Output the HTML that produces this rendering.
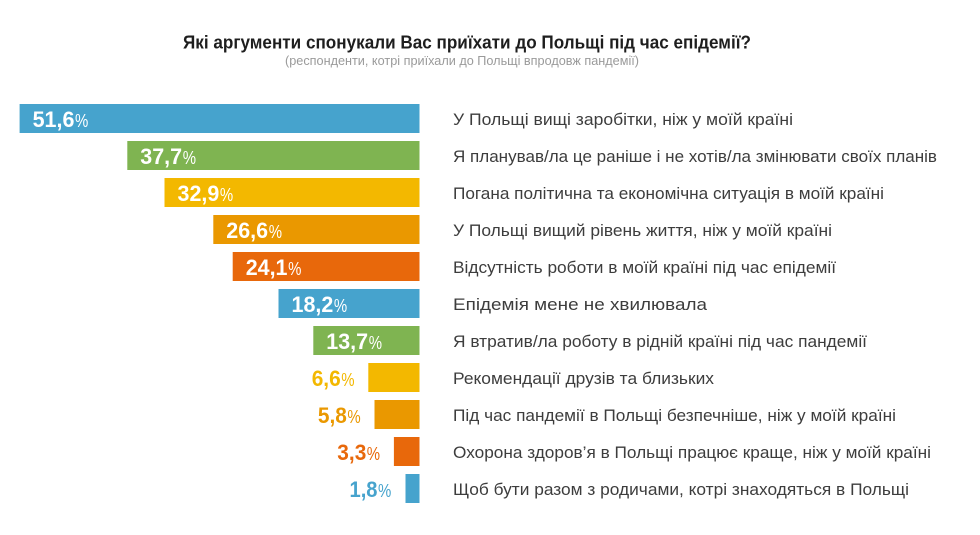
<!DOCTYPE html>
<html>
<head>
<meta charset="utf-8">
<style>
  html, body { margin:0; padding:0; background:#ffffff; }
  svg { display:block; }
  .t { font-family:"Liberation Sans","Noto Sans CJK SC",sans-serif; }
</style>
</head>
<body>
<svg width="980" height="535" viewBox="0 0 980 535" xmlns="http://www.w3.org/2000/svg" class="t">
  <!-- Title -->
  <text x="183" y="48.7" font-size="18" font-weight="bold" fill="#1e1e1e" textLength="568" lengthAdjust="spacingAndGlyphs">Які аргументи спонукали Вас приїхати до Польщі під час епідемії?</text>
  <text x="285" y="65" font-size="13" fill="#9a9a9a" textLength="354" lengthAdjust="spacingAndGlyphs">(респонденти, котрі приїхали до Польщі впродовж пандемії)</text>

  <!-- Bars -->
  <rect x="19.6" y="104" width="399.9" height="29" fill="#46a3cd"/>
  <rect x="127.3" y="141" width="292.2" height="29" fill="#7fb451"/>
  <rect x="164.5" y="178" width="255" height="29" fill="#f3b800"/>
  <rect x="213.3" y="215" width="206.2" height="29" fill="#ea9800"/>
  <rect x="232.7" y="252" width="186.8" height="29" fill="#e8680b"/>
  <rect x="278.5" y="289" width="141" height="29" fill="#46a3cd"/>
  <rect x="313.3" y="326" width="106.2" height="29" fill="#7fb451"/>
  <rect x="368.3" y="363" width="51.2" height="29" fill="#f3b800"/>
  <rect x="374.5" y="400" width="45" height="29" fill="#ea9800"/>
  <rect x="393.9" y="437" width="25.6" height="29" fill="#e8680b"/>
  <rect x="405.5" y="474" width="14" height="29" fill="#46a3cd"/>

  <!-- Inside value labels -->
  <g fill="#ffffff">
    <text x="32.6" y="127" font-size="22" font-weight="bold" textLength="41.8" lengthAdjust="spacingAndGlyphs">51,6</text>
    <text x="75" y="127" font-size="18" textLength="13.3" lengthAdjust="spacingAndGlyphs">%</text>

    <text x="140.3" y="164" font-size="22" font-weight="bold" textLength="41.8" lengthAdjust="spacingAndGlyphs">37,7</text>
    <text x="182.7" y="164" font-size="18" textLength="13.3" lengthAdjust="spacingAndGlyphs">%</text>

    <text x="177.5" y="201" font-size="22" font-weight="bold" textLength="41.8" lengthAdjust="spacingAndGlyphs">32,9</text>
    <text x="219.9" y="201" font-size="18" textLength="13.3" lengthAdjust="spacingAndGlyphs">%</text>

    <text x="226.3" y="238" font-size="22" font-weight="bold" textLength="41.8" lengthAdjust="spacingAndGlyphs">26,6</text>
    <text x="268.7" y="238" font-size="18" textLength="13.3" lengthAdjust="spacingAndGlyphs">%</text>

    <text x="245.7" y="275" font-size="22" font-weight="bold" textLength="41.8" lengthAdjust="spacingAndGlyphs">24,1</text>
    <text x="288.1" y="275" font-size="18" textLength="13.3" lengthAdjust="spacingAndGlyphs">%</text>

    <text x="291.5" y="312" font-size="22" font-weight="bold" textLength="41.8" lengthAdjust="spacingAndGlyphs">18,2</text>
    <text x="333.9" y="312" font-size="18" textLength="13.3" lengthAdjust="spacingAndGlyphs">%</text>

    <text x="326.3" y="349" font-size="22" font-weight="bold" textLength="41.8" lengthAdjust="spacingAndGlyphs">13,7</text>
    <text x="368.7" y="349" font-size="18" textLength="13.3" lengthAdjust="spacingAndGlyphs">%</text>
  </g>

  <!-- Outside value labels -->
  <text x="311.7" y="386" font-size="22" font-weight="bold" fill="#f3b800" textLength="29" lengthAdjust="spacingAndGlyphs">6,6</text>
  <text x="341.2" y="386" font-size="18" fill="#f3b800" textLength="13.3" lengthAdjust="spacingAndGlyphs">%</text>

  <text x="317.9" y="423" font-size="22" font-weight="bold" fill="#ea9800" textLength="29" lengthAdjust="spacingAndGlyphs">5,8</text>
  <text x="347.4" y="423" font-size="18" fill="#ea9800" textLength="13.3" lengthAdjust="spacingAndGlyphs">%</text>

  <text x="337.3" y="460" font-size="22" font-weight="bold" fill="#e8680b" textLength="29" lengthAdjust="spacingAndGlyphs">3,3</text>
  <text x="366.8" y="460" font-size="18" fill="#e8680b" textLength="13.3" lengthAdjust="spacingAndGlyphs">%</text>

  <text x="349.5" y="497" font-size="22" font-weight="bold" fill="#46a3cd" textLength="28" lengthAdjust="spacingAndGlyphs">1,8</text>
  <text x="378" y="497" font-size="18" fill="#46a3cd" textLength="13.3" lengthAdjust="spacingAndGlyphs">%</text>

  <!-- Category labels -->
  <g font-size="17" fill="#3d3d3d">
    <text x="453" y="125" textLength="340" lengthAdjust="spacingAndGlyphs">У Польщі вищі заробітки, ніж у моїй країні</text>
    <text x="453" y="162" textLength="484" lengthAdjust="spacingAndGlyphs">Я планував/ла це раніше і не хотів/ла змінювати своїх планів</text>
    <text x="453" y="199" textLength="431" lengthAdjust="spacingAndGlyphs">Погана політична та економічна ситуація в моїй країні</text>
    <text x="453" y="236" textLength="379" lengthAdjust="spacingAndGlyphs">У Польщі вищий рівень життя, ніж у моїй країні</text>
    <text x="453" y="273" textLength="383" lengthAdjust="spacingAndGlyphs">Відсутність роботи в моїй країні під час епідемії</text>
    <text x="453" y="310" textLength="254" lengthAdjust="spacingAndGlyphs">Епідемія мене не хвилювала</text>
    <text x="453" y="347" textLength="414" lengthAdjust="spacingAndGlyphs">Я втратив/ла роботу в рідній країні під час пандемії</text>
    <text x="453" y="384" textLength="261" lengthAdjust="spacingAndGlyphs">Рекомендації друзів та близьких</text>
    <text x="453" y="421" textLength="443" lengthAdjust="spacingAndGlyphs">Під час пандемії в Польщі безпечніше, ніж у моїй країні</text>
    <text x="453" y="458" textLength="478" lengthAdjust="spacingAndGlyphs">Охорона здоров’я в Польщі працює краще, ніж у моїй країні</text>
    <text x="453" y="495" textLength="456" lengthAdjust="spacingAndGlyphs">Щоб бути разом з родичами, котрі знаходяться в Польщі</text>
  </g>
</svg>
</body>
</html>
